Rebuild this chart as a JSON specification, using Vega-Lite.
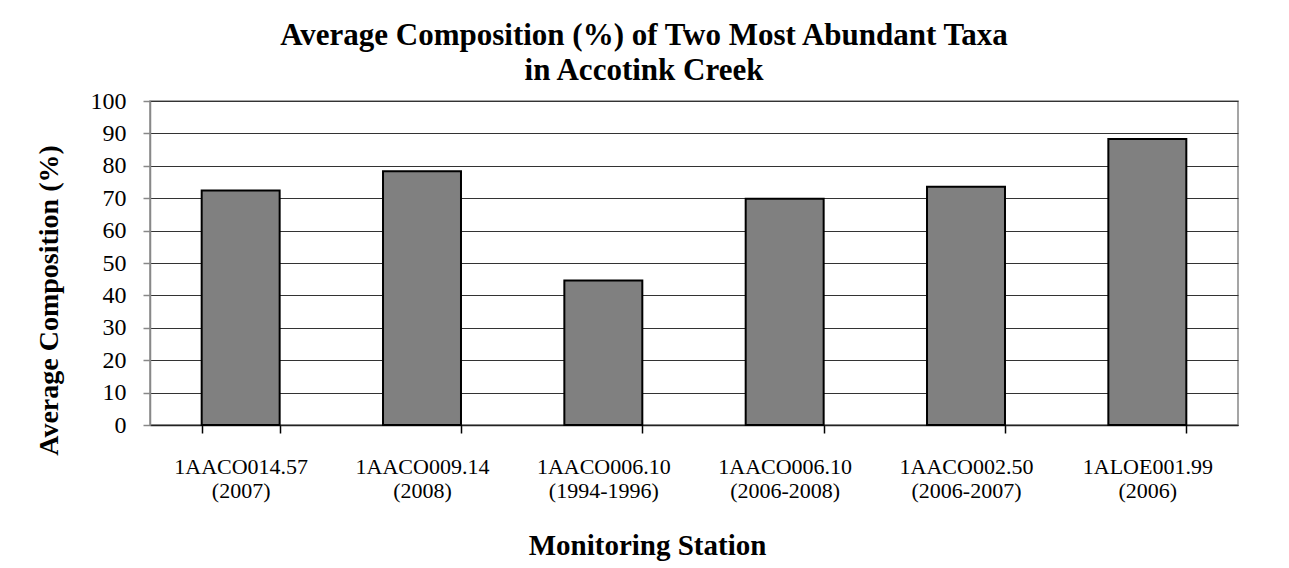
{
  "$schema": "https://vega.github.io/schema/vega-lite/v6.json",
  "autosize": "none",
  "width": 1088,
  "height": 324,
  "padding": {"left": 150, "top": 101, "right": 51, "bottom": 143},
  "background": "white",
  "title": {
    "text": ["Average Composition (%) of Two Most Abundant Taxa", "in Accotink Creek"],
    "font": "Liberation Serif",
    "fontSize": 31,
    "fontWeight": "bold",
    "color": "black",
    "lineHeight": 35,
    "anchor": "middle",
    "dx": -50,
    "offset": 2
  },
  "config": {
    "view": {"stroke": "#888888", "strokeWidth": 1.5},
    "axis": {"labelFont": "Liberation Serif", "titleFont": "Liberation Serif", "labelColor": "black", "titleColor": "black"}
  },
  "data": {
    "values": [
      {"station": "1AACO014.57|(2007)", "value": 72.4},
      {"station": "1AACO009.14|(2008)", "value": 78.3},
      {"station": "1AACO006.10|(1994-1996)", "value": 44.6},
      {"station": "1AACO006.10|(2006-2008)", "value": 69.8},
      {"station": "1AACO002.50|(2006-2007)", "value": 73.5},
      {"station": "1ALOE001.99|(2006)", "value": 88.3}
    ]
  },
  "mark": {"type": "bar", "color": "#808080", "stroke": "black", "strokeWidth": 2},
  "encoding": {
    "x": {
      "field": "station",
      "type": "nominal",
      "sort": null,
      "scale": {"paddingInner": 0.57, "paddingOuter": 0.285},
      "axis": {
        "title": "Monitoring Station",
        "titleFontSize": 29,
        "titleFontWeight": "bold",
        "titleX": 497,
        "titleY": 129,
        "titleBaseline": "alphabetic",
        "titleAlign": "center",
        "labelExpr": "split(datum.label, '|')",
        "labelAngle": 0,
        "labelFontSize": 22,
        "labelLineHeight": 24,
        "labelPadding": 23,
        "labelBaseline": "top",
        "ticks": true,
        "tickBand": "extent",
        "tickSize": 8,
        "tickWidth": 1.5,
        "tickColor": "black",
        "domainColor": "#222222",
        "domainWidth": 1.5,
        "grid": false
      }
    },
    "y": {
      "field": "value",
      "type": "quantitative",
      "scale": {"domain": [0, 100], "nice": false},
      "axis": {
        "title": "Average Composition (%)",
        "titleFontSize": 28,
        "titleFontWeight": "bold",
        "titleX": -93,
        "titleY": 199,
        "titleAngle": -90,
        "titleBaseline": "alphabetic",
        "titleAlign": "center",
        "values": [0, 10, 20, 30, 40, 50, 60, 70, 80, 90, 100],
        "labelFontSize": 24,
        "labelPadding": 17,
        "tickSize": 7,
        "tickWidth": 1.5,
        "tickColor": "#888888",
        "domainColor": "#888888",
        "domainWidth": 1.5,
        "grid": true,
        "gridColor": "#333333",
        "gridWidth": 1
      }
    }
  }
}
